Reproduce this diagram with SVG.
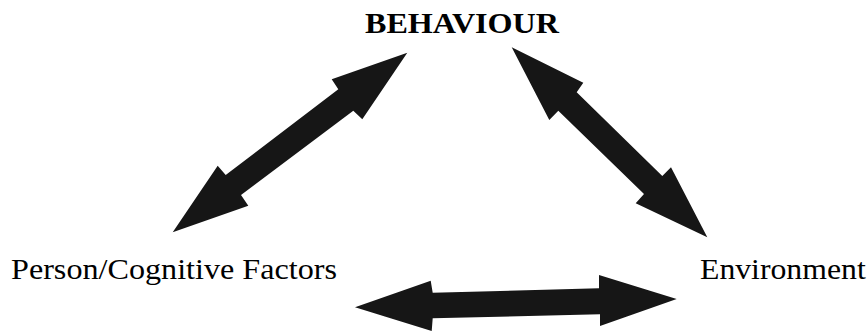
<svg xmlns="http://www.w3.org/2000/svg" width="868" height="331" viewBox="0 0 868 331">
<style>
.lbl{fill:#000;}
.arr{fill:#161616;stroke:none;}
</style>
<rect width="868" height="331" fill="#fff"/>
<g id="connectors">
<polygon class="arr" points="407.3,52.7 362.3,119.3 353.3,110.7 241,195 248.3,205.7 172.7,232.3 217.7,165.7 225.7,175 338.3,89.3 331.7,79.3"/>
<polygon class="arr" points="511.7,47.3 583.3,82.7 576.7,92.3 662.3,176 671,167.3 707.3,237.3 635.7,203.3 644,194 558.3,110.7 549.3,120"/>
<polygon class="arr" points="355,307.3 430.7,280.7 432.7,292.7 599,288.3 599,275 676.7,299 600,326 600,314.3 432.7,318.3 431.7,331"/>
</g>
<g id="behaviour">
<text class="lbl" font-family="Liberation Serif, serif" font-weight="bold" x="365" y="32.7" font-size="30" textLength="194" lengthAdjust="spacingAndGlyphs">BEHAVIOUR</text>
</g>
<g id="person">
<text class="lbl" font-family="Liberation Serif, serif" font-weight="normal" x="11" y="279.3" font-size="29.5" textLength="326" lengthAdjust="spacingAndGlyphs">Person/Cognitive Factors</text>
</g>
<g id="environment">
<text class="lbl" font-family="Liberation Serif, serif" font-weight="normal" x="700" y="279.3" font-size="29.5" textLength="165.7" lengthAdjust="spacingAndGlyphs">Environment</text>
</g>
</svg>
